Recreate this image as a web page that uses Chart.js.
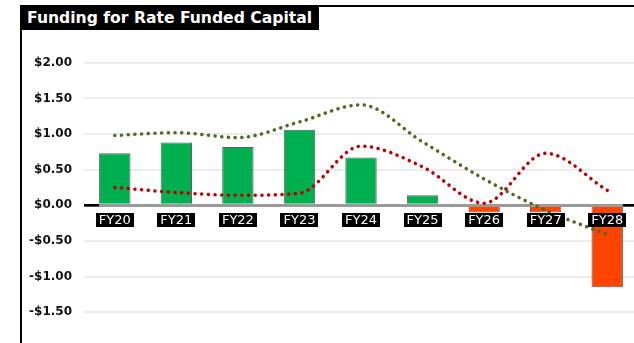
<!DOCTYPE html>
<html>
<head>
<meta charset="utf-8">
<script src="https://cdn.jsdelivr.net/npm/chart.js@4/dist/chart.umd.min.js"></script>
<style>
  html, body { margin: 0; padding: 0; background: #fff; overflow: hidden; }
  #wrap { position: relative; width: 634px; height: 343px; overflow: hidden; }
  #c { position: absolute; left: 0; top: 0; }
  .frame-left { position: absolute; left: 20px; top: 5px; width: 2px; height: 340px; background: #000; }
  .frame-top { position: absolute; left: 20px; top: 5px; width: 614px; height: 2px; background: #000; }
  .title {
    position: absolute; left: 20px; top: 5px; height: 25px; padding: 0 7px 0 7px;
    background: #000; color: #fff; font: bold 15.6px "DejaVu Sans", Verdana, sans-serif;
    line-height: 26px; white-space: nowrap;
  }
</style>
</head>
<body>
<div id="wrap">
  <canvas id="c" width="640" height="367"></canvas>
  <div class="frame-top"></div>
  <div class="frame-left"></div>
  <div class="title">Funding for Rate Funded Capital</div>
</div>
<script>
// Fiscal years and series ($ per unit)
const categories = ['FY20', 'FY21', 'FY22', 'FY23', 'FY24', 'FY25', 'FY26', 'FY27', 'FY28'];
const fundingBars = [0.73, 0.88, 0.82, 1.06, 0.67, 0.14, -0.10, -0.10, -1.15];
const greenLine = [0.98, 1.02, 0.95, 1.17, 1.41, 0.89, 0.37, -0.07, -0.41];
const redLine = [0.25, 0.18, 0.14, 0.17, 0.83, 0.54, 0.03, 0.73, 0.21];
const yTicks = [-1.5, -1.0, -0.5, 0, 0.5, 1.0, 1.5, 2.0];

const FONT = '"DejaVu Sans", Verdana, sans-serif';

// black end pieces of the zero line, left of the first bar and right of the last
const zeroEnds = {
  id: 'zeroEnds',
  beforeDatasetsDraw(chart) {
    const { ctx, chartArea, scales } = chart;
    const meta = chart.getDatasetMeta(0);
    const first = meta.data[0], last = meta.data[meta.data.length - 1];
    const y = scales.y.getPixelForValue(0);
    ctx.save();
    ctx.strokeStyle = '#000';
    ctx.lineWidth = 2.5;
    ctx.beginPath();
    ctx.moveTo(chartArea.left, y);
    ctx.lineTo(first.x - first.width / 2, y);
    ctx.moveTo(last.x + last.width / 2, y);
    ctx.lineTo(chartArea.right, y);
    ctx.stroke();
    ctx.restore();
  }
};

// category labels sit in black boxes just under the zero line
const boxLabels = {
  id: 'boxLabels',
  afterDatasetsDraw(chart) {
    const { ctx, scales } = chart;
    const y0 = scales.y.getPixelForValue(0);
    ctx.save();
    ctx.font = '13px ' + FONT;
    ctx.textAlign = 'center';
    ctx.textBaseline = 'middle';
    categories.forEach((label, i) => {
      const x = scales.x.getPixelForValue(i);
      const w = ctx.measureText(label).width + 6;
      ctx.fillStyle = '#000';
      ctx.fillRect(Math.round(x - w / 2), Math.round(y0 + 8), Math.round(w), 14);
      ctx.fillStyle = '#fff';
      ctx.fillText(label, x, y0 + 15.5);
    });
    ctx.restore();
  }
};

const dotted = (color) => ({
  type: 'line',
  borderColor: color,
  borderWidth: 3.5,
  borderDash: [0.1, 6.6],
  borderCapStyle: 'round',
  pointRadius: 0,
  cubicInterpolationMode: 'monotone',
  fill: false,
  order: 0
});

new Chart(document.getElementById('c'), {
  type: 'bar',
  data: {
    labels: categories,
    datasets: [
      {
        label: 'Funding',
        data: fundingBars,
        backgroundColor: ctx => (ctx.raw < 0 ? '#ff4400' : '#00b050'),
        borderColor: 'rgba(40,40,40,0.75)',
        borderWidth: 1,
        barPercentage: 0.51,
        categoryPercentage: 1,
        order: 1
      },
      { ...dotted('#4e6b1e'), label: 'Green', data: greenLine },
      { ...dotted('#c00000'), label: 'Red', data: redLine }
    ]
  },
  options: {
    responsive: false,
    animation: false,
    layout: { padding: { left: 0, right: 2, top: 45, bottom: 4 } },
    plugins: { legend: { display: false }, title: { display: false }, tooltip: { enabled: false } },
    scales: {
      x: { display: false },
      y: {
        min: -2.0,
        max: 2.25,
        afterFit: scale => { scale.width = 84; },
        afterBuildTicks: scale => { scale.ticks = yTicks.map(v => ({ value: v })); },
        border: { display: false },
        grid: {
          drawTicks: false,
          color: ctx => (ctx.tick && ctx.tick.value === 0 ? '#9a9a9a' : '#ececec'),
          lineWidth: ctx => (ctx.tick && ctx.tick.value === 0 ? 3 : 2)
        },
        ticks: {
          padding: 12,
          color: '#111',
          font: { family: FONT, size: 12, weight: 'bold' },
          callback: v => (v < 0 ? '-$' : '$') + Math.abs(v).toFixed(2)
        }
      }
    }
  },
  plugins: [zeroEnds, boxLabels]
});
</script>
</body>
</html>
